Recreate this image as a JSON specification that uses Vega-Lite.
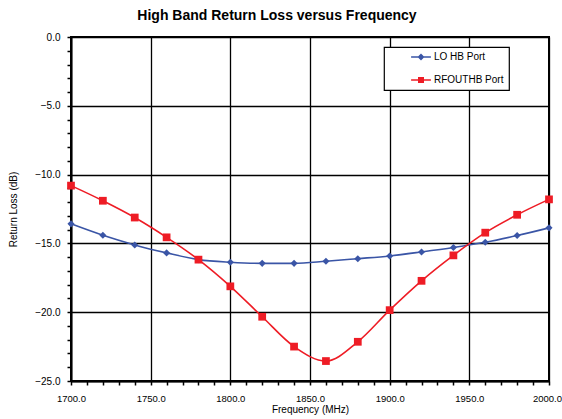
{
  "$schema": "https://vega.github.io/schema/vega-lite/v6.json",
  "width": 478,
  "height": 344,
  "autosize": {"type": "none"},
  "padding": {"left": 71, "top": 37, "right": 13, "bottom": 38},
  "background": "white",
  "title": {"text": "High Band Return Loss versus Frequency", "font": "Liberation Sans", "fontSize": 14, "fontWeight": "bold", "color": "black", "anchor": "middle", "dx": -33, "offset": 9},
  "config": {
    "view": {"stroke": "black", "strokeWidth": 2},
    "axis": {"labelFont": "Liberation Sans", "labelFontSize": 10, "labelColor": "black", "titleFont": "Liberation Sans", "titleFontSize": 10, "titleFontWeight": "normal", "titleColor": "black", "domainColor": "black", "domainWidth": 2, "tickColor": "black", "tickWidth": 1.5, "tickSize": 4, "gridWidth": 1.3, "labelFlush": false, "labelOverlap": false}
  },
  "data": {"values": [
    {"freq": 1700, "series": "LO HB Port", "rl": -13.58},
    {"freq": 1720, "series": "LO HB Port", "rl": -14.41},
    {"freq": 1740, "series": "LO HB Port", "rl": -15.11},
    {"freq": 1760, "series": "LO HB Port", "rl": -15.69},
    {"freq": 1780, "series": "LO HB Port", "rl": -16.18},
    {"freq": 1800, "series": "LO HB Port", "rl": -16.37},
    {"freq": 1820, "series": "LO HB Port", "rl": -16.45},
    {"freq": 1840, "series": "LO HB Port", "rl": -16.45},
    {"freq": 1860, "series": "LO HB Port", "rl": -16.3},
    {"freq": 1880, "series": "LO HB Port", "rl": -16.11},
    {"freq": 1900, "series": "LO HB Port", "rl": -15.91},
    {"freq": 1920, "series": "LO HB Port", "rl": -15.62},
    {"freq": 1940, "series": "LO HB Port", "rl": -15.3},
    {"freq": 1960, "series": "LO HB Port", "rl": -14.92},
    {"freq": 1980, "series": "LO HB Port", "rl": -14.43},
    {"freq": 2000, "series": "LO HB Port", "rl": -13.87},
    {"freq": 1700, "series": "RFOUTHB Port", "rl": -10.8},
    {"freq": 1720, "series": "RFOUTHB Port", "rl": -11.9},
    {"freq": 1740, "series": "RFOUTHB Port", "rl": -13.12},
    {"freq": 1760, "series": "RFOUTHB Port", "rl": -14.56},
    {"freq": 1780, "series": "RFOUTHB Port", "rl": -16.18},
    {"freq": 1800, "series": "RFOUTHB Port", "rl": -18.12},
    {"freq": 1820, "series": "RFOUTHB Port", "rl": -20.33},
    {"freq": 1840, "series": "RFOUTHB Port", "rl": -22.5},
    {"freq": 1860, "series": "RFOUTHB Port", "rl": -23.55},
    {"freq": 1880, "series": "RFOUTHB Port", "rl": -22.15},
    {"freq": 1900, "series": "RFOUTHB Port", "rl": -19.85},
    {"freq": 1920, "series": "RFOUTHB Port", "rl": -17.72},
    {"freq": 1940, "series": "RFOUTHB Port", "rl": -15.87},
    {"freq": 1960, "series": "RFOUTHB Port", "rl": -14.22},
    {"freq": 1980, "series": "RFOUTHB Port", "rl": -12.92},
    {"freq": 2000, "series": "RFOUTHB Port", "rl": -11.8}
  ]},
  "encoding": {
    "x": {"field": "freq", "type": "quantitative", "scale": {"domain": [1700, 2000], "nice": false, "zero": false},
      "axis": {"title": "Frequency (MHz)", "values": [1700,1710,1720,1730,1740,1750,1760,1770,1780,1790,1800,1810,1820,1830,1840,1850,1860,1870,1880,1890,1900,1910,1920,1930,1940,1950,1960,1970,1980,1990,2000],
        "labelExpr": "datum.value % 50 === 0 ? format(datum.value, '.1f') : ''",
        "labelFontSize": 9.5,
        "labelOffset": {"condition": {"test": "datum.value === 2000", "value": -2}, "value": 0},
        "grid": true, "gridColor": {"condition": {"test": "datum.value % 50 === 0", "value": "black"}, "value": "transparent"},
        "labelPadding": 8, "titlePadding": 2,
        "encode": {"ticks": {"update": {"y2": {"signal": "datum.value % 50 === 0 ? 2 : -4"}}}}}},
    "y": {"field": "rl", "type": "quantitative", "scale": {"domain": [-25, 0], "nice": false, "zero": false},
      "axis": {"title": "Return Loss (dB)", "values": [-25,-24,-23,-22,-21,-20,-19,-18,-17,-16,-15,-14,-13,-12,-11,-10,-9,-8,-7,-6,-5,-4,-3,-2,-1,0],
        "labelExpr": "datum.value % 5 === 0 ? format(datum.value, '.1f') : ''",
        "grid": true, "gridColor": {"condition": {"test": "datum.value % 5 === 0", "value": "black"}, "value": "transparent"},
        "labelPadding": 7, "titlePadding": 16,
        "encode": {"ticks": {"update": {"x2": {"signal": "datum.value % 5 === 0 ? -4 : 3"}}}}}},
    "color": {"field": "series", "type": "nominal", "scale": {"domain": ["LO HB Port", "RFOUTHB Port"], "range": ["#3a55a6", "#ee1c25"]},
      "legend": {"title": null, "orient": "none", "legendX": 313, "legendY": 10, "fillColor": "white", "strokeColor": "black", "padding": 5, "rowPadding": 13, "symbolSize": 36, "symbolOffset": 27, "labelOffset": 8, "labelFont": "Liberation Sans", "labelFontSize": 10, "labelColor": "black",
        "encode": {
          "legend": {"update": {"strokeWidth": {"value": 1.2}}},
          "symbols": {"update": {"shape": {"signal": "datum.value === 'LO HB Port' ? 'M-3.3,-0.22H3.3V0.22H-3.3ZM0,-1.15L1.15,0L0,1.15L-1.15,0Z' : 'M-3.3,-0.22H3.3V0.22H-3.3ZM-1,-1H1V1H-1Z'"}, "fill": {"scale": "color", "field": "value"}, "fillOpacity": {"value": 1}, "strokeWidth": {"value": 0}, "opacity": {"value": 1}}}
        }}}
  },
  "layer": [
    {"mark": {"type": "line", "interpolate": "monotone", "strokeWidth": 1.6}},
    {"transform": [{"filter": "datum.series === 'LO HB Port'"}],
     "mark": {"type": "point", "filled": true, "opacity": 1, "shape": "diamond", "size": 50}},
    {"transform": [{"filter": "datum.series === 'RFOUTHB Port'"}],
     "mark": {"type": "point", "filled": true, "opacity": 1, "shape": "square", "size": 60}}
  ]
}
